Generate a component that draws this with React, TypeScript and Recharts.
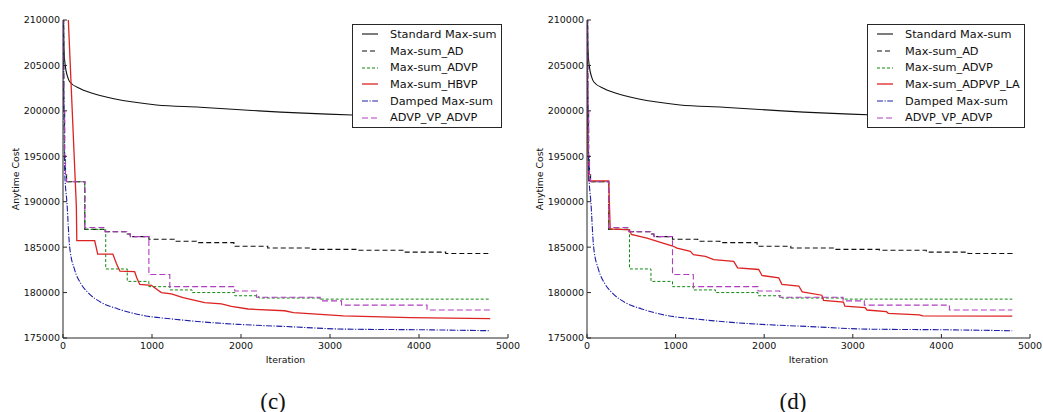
import { Line, LineChart, XAxis, YAxis } from "recharts";

type Pt = [number, number];

const xTicks = [0, 1000, 2000, 3000, 4000, 5000];
const yTicks = [175000, 180000, 185000, 190000, 195000, 200000, 205000, 210000];

// [iteration, anytime cost]
const standardMaxSum: Pt[] = [
  [0, 212000], [12, 206500], [25, 205000], [50, 203800], [80, 203150], [190, 202450],
  [416, 201700], [790, 200970], [1050, 200650], [1540, 200400], [2200, 200000],
  [3250, 199550], [4000, 199350], [4800, 199150],
];

const maxSumAD: Pt[] = [
  [0, 212000], [8, 200000], [18, 195000], [28, 193000], [40, 192200], [245, 186960],
  [470, 186700], [720, 186450], [755, 186160], [965, 185870], [1250, 185650],
  [1500, 185500], [1920, 185100], [2300, 184900], [2800, 184750], [3300, 184650],
  [3830, 184450], [4300, 184300], [4800, 184200],
];

const maxSumADVP: Pt[] = [
  [0, 212000], [8, 200000], [18, 195000], [28, 193000], [40, 192200], [245, 186960],
  [480, 182600], [722, 181230], [965, 180650], [1200, 180290], [1450, 180000],
  [1930, 179650], [2200, 179400], [2890, 179280], [4800, 179280],
];

const maxSumHBVP: Pt[] = [
  [0, 225000], [60, 210000], [150, 189500], [155, 185720], [356, 185720], [390, 184240],
  [560, 184240], [600, 183200], [640, 182350], [805, 182300], [830, 181600], [862, 180900],
  [993, 180800], [1030, 180540], [1105, 180000], [1218, 179850], [1349, 179450],
  [1592, 178900], [1780, 178750], [1892, 178480], [2080, 178190], [2490, 178000],
  [2589, 177790], [3151, 177430], [3900, 177250], [4800, 177140],
];

const maxSumADPVPLA: Pt[] = [
  [0, 212000], [10, 196000], [19, 192300], [245, 192300], [262, 187000], [480, 186900],
  [500, 186400], [677, 185980], [884, 185360], [960, 185150], [1016, 184890],
  [1167, 184530], [1200, 184170], [1336, 183990], [1430, 183620], [1656, 183440],
  [1700, 182720], [1938, 182540], [1975, 181880], [2164, 181630], [2200, 180900],
  [2390, 180720], [2430, 180070], [2650, 179710], [2670, 179150], [2894, 178950],
  [2910, 178510], [3139, 178350], [3160, 178080], [3380, 177900], [3400, 177720],
  [3750, 177550], [3790, 177430], [4800, 177400],
];

const dampedMaxSum: Pt[] = [
  [0, 212000], [8, 203000], [19, 193400], [45, 189800], [75, 185000], [131, 182500],
  [200, 181000], [281, 180000], [431, 178900], [618, 178200], [918, 177450],
  [1218, 177100], [1592, 176750], [1967, 176500], [2491, 176270], [3151, 175980],
  [4088, 175900], [4800, 175800],
];

const advpVpAdvp: Pt[] = [
  [0, 212000], [8, 200000], [18, 195000], [28, 193000], [40, 192200], [245, 187170],
  [470, 186700], [720, 186450], [755, 186160], [965, 181990], [1200, 180650],
  [1930, 180180], [2175, 179480], [2890, 179090], [3130, 178620], [4090, 178080],
  [4800, 178080],
];

type Series = {
  name: string;
  points: Pt[];
  color: string;
  width: number;
  dash?: string;
  curve: "monotone" | "linear" | "stepAfter";
};

const AXIS = "#262626";
const FONT = "'DejaVu Sans', sans-serif";

const baseSeries = (red: Series): Series[] => [
  { name: "Standard Max-sum", points: standardMaxSum, color: "#111", width: 1.1, curve: "monotone" },
  { name: "Max-sum_AD", points: maxSumAD, color: "#111", width: 1.1, dash: "5 3", curve: "stepAfter" },
  { name: "Max-sum_ADVP", points: maxSumADVP, color: "#118811", width: 1, dash: "3 2", curve: "stepAfter" },
  red,
  { name: "Damped Max-sum", points: dampedMaxSum, color: "#1f1fa8", width: 1.1, dash: "6 1.5 1.2 1.5", curve: "monotone" },
  { name: "ADVP_VP_ADVP", points: advpVpAdvp, color: "#b03cc0", width: 1.1, dash: "6 3", curve: "stepAfter" },
];

const seriesC = baseSeries({
  name: "Max-sum_HBVP", points: maxSumHBVP, color: "#dd2222", width: 1.3, curve: "linear",
});
const seriesD = baseSeries({
  name: "Max-sum_ADPVP_LA", points: maxSumADPVPLA, color: "#dd2222", width: 1.3, curve: "linear",
});

const toRows = (pts: Pt[]) => pts.map(([iteration, cost]) => ({ iteration, cost }));

const tickStyle = { fontSize: 9.5, fill: "#111", fontFamily: FONT };

function Legend({ series, left, width }: { series: Series[]; left: number; width: number }) {
  return (
    <div
      style={{
        position: "absolute",
        left,
        top: 24,
        width,
        height: 104,
        boxSizing: "border-box",
        border: `1px solid ${AXIS}`,
        background: "#fff",
        paddingTop: 1,
        fontFamily: FONT,
        fontSize: 11.3,
        color: "#111",
      }}
    >
      {series.map((s) => (
        <div key={s.name} style={{ height: 16.7, display: "flex", alignItems: "center" }}>
          <svg width={37} height={10} style={{ flex: "none" }}>
            <line x1={9} x2={25} y1={5} y2={5} stroke={s.color} strokeWidth={s.width}
              strokeDasharray={s.dash} />
          </svg>
          <span style={{ whiteSpace: "nowrap" }}>{s.name}</span>
        </div>
      ))}
    </div>
  );
}

type PanelProps = {
  left: number;
  width: number;
  series: Series[];
  caption: string;
  captionX: number;
  legendLeft: number;
  legendWidth: number;
};

function Panel({ left, width, series, caption, captionX, legendLeft, legendWidth }: PanelProps) {
  const plotLeft = 63;
  const plotRight = width - 12;
  return (
    <div style={{ position: "absolute", left, top: 0, width, height: 412 }}>
      <LineChart width={width} height={412} margin={{ top: 20, right: 12, bottom: 0, left: 0 }}>
        <XAxis xAxisId="b" type="number" dataKey="iteration" domain={[0, 5000]} ticks={xTicks}
          allowDataOverflow interval={0} height={74} tickSize={-4} tickMargin={8}
          stroke={AXIS} tick={tickStyle} />
        <XAxis xAxisId="t" orientation="top" type="number" dataKey="iteration" domain={[0, 5000]}
          ticks={xTicks} allowDataOverflow interval={0} height={0} tickSize={-4} tick={false}
          stroke={AXIS} />
        <YAxis yAxisId="l" type="number" domain={[175000, 210000]} ticks={yTicks}
          allowDataOverflow interval={0} width={63} tickSize={-4} tickMargin={7}
          stroke={AXIS} tick={tickStyle} />
        <YAxis yAxisId="r" orientation="right" type="number" domain={[175000, 210000]}
          ticks={yTicks} allowDataOverflow interval={0} width={0} tickSize={-4} tick={false}
          stroke={AXIS} />
        {series.map((s) => (
          <Line
            key={s.name}
            xAxisId="b"
            yAxisId="l"
            data={toRows(s.points)}
            dataKey="cost"
            type={s.curve}
            stroke={s.color}
            strokeWidth={s.width}
            strokeDasharray={s.dash}
            dot={false}
            activeDot={false}
            isAnimationActive={false}
          />
        ))}
      </LineChart>

      <div
        style={{
          position: "absolute",
          left: 14.5,
          top: 179,
          transform: "translate(-50%, -50%) rotate(-90deg)",
          fontFamily: FONT,
          fontSize: 9.3,
          color: "#111",
          whiteSpace: "nowrap",
        }}
      >
        Anytime Cost
      </div>
      <div
        style={{
          position: "absolute",
          left: (plotLeft + plotRight) / 2,
          top: 359,
          transform: "translate(-50%, -50%)",
          fontFamily: FONT,
          fontSize: 9.3,
          color: "#111",
        }}
      >
        Iteration
      </div>
      <div
        style={{
          position: "absolute",
          left: captionX - left,
          top: 401,
          transform: "translate(-50%, -50%)",
          fontFamily: "'Liberation Serif', serif",
          fontSize: 23,
          color: "#111",
          lineHeight: 1,
        }}
      >
        {caption}
      </div>
      <Legend series={series} left={legendLeft - left} width={legendWidth} />
    </div>
  );
}

export default function App() {
  return (
    <div style={{ position: "absolute", left: 0, top: 0, width: 1043, height: 412, background: "#fff" }}>
      <Panel left={0} width={520} series={seriesC} caption="(c)" captionX={273}
        legendLeft={352} legendWidth={150} />
      <Panel left={524} width={518} series={seriesD} caption="(d)" captionX={793}
        legendLeft={867} legendWidth={158} />
    </div>
  );
}
